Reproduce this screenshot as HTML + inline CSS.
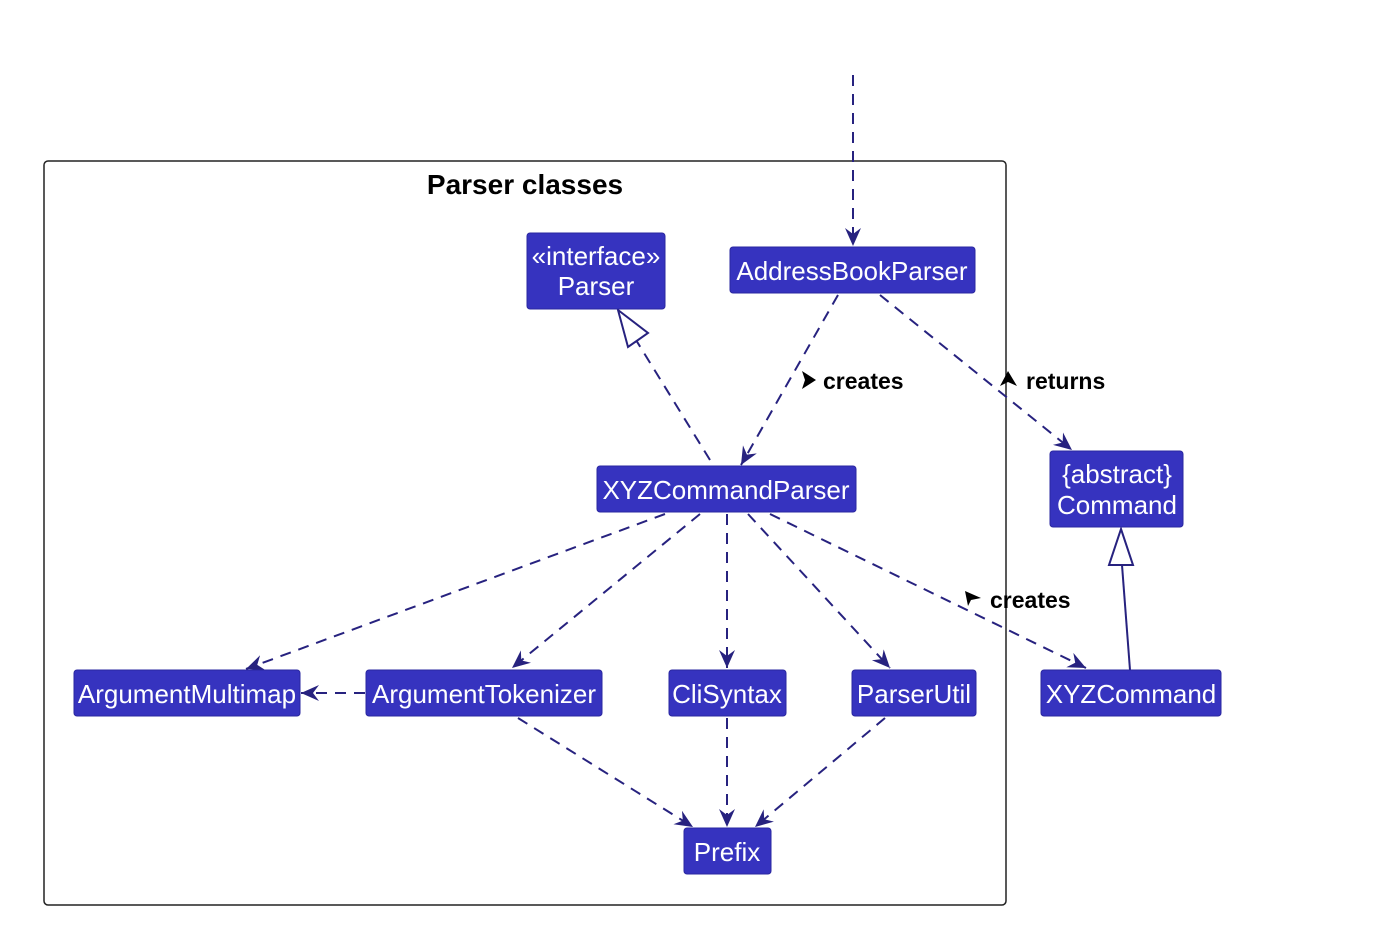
<!DOCTYPE html>
<html><head><meta charset="utf-8"><style>
html,body{margin:0;padding:0;background:#fff}
svg text{font-family:"Liberation Sans",Arial,sans-serif}
.b{fill:#3633BF;stroke:#2a27a0;stroke-width:1}
.t{fill:#fff;font-size:26px}
.e{stroke:#27227F;stroke-width:2;fill:none;stroke-dasharray:11,8}
.l{font-size:23px;font-weight:bold;fill:#000}
</style></head><body>
<svg width="1379" height="931" viewBox="0 0 1379 931" xmlns="http://www.w3.org/2000/svg">
<defs>
<marker id="a" viewBox="0 0 20 20" refX="18" refY="10" markerWidth="20" markerHeight="20" markerUnits="userSpaceOnUse" orient="auto">
<path d="M0,2 L18,10 L0,18 L6,10 Z" fill="#27227F"/>
</marker>
</defs>
<rect x="44" y="161" width="962" height="744" rx="4" fill="none" stroke="#222" stroke-width="1.5"/>
<text x="525" y="194" text-anchor="middle" font-size="28" font-weight="bold">Parser classes</text>

<line class="e" x1="853" y1="75" x2="853" y2="246" marker-end="url(#a)"/>
<line class="e" x1="838" y1="295" x2="741" y2="465" marker-end="url(#a)"/>
<line class="e" x1="880" y1="295" x2="1072" y2="450" marker-end="url(#a)"/>
<line class="e" x1="710" y1="460" x2="636" y2="340"/>
<polygon points="618,310 648,333 628,347" fill="#fff" stroke="#27227F" stroke-width="2"/>
<line x1="1130" y1="670" x2="1122" y2="565" stroke="#27227F" stroke-width="2"/>
<polygon points="1121,529 1133,565 1109,565" fill="#fff" stroke="#27227F" stroke-width="2"/>
<line class="e" x1="665" y1="514" x2="246" y2="669" marker-end="url(#a)"/>
<line class="e" x1="700" y1="514" x2="512" y2="668" marker-end="url(#a)"/>
<line class="e" x1="727" y1="514" x2="727" y2="668" marker-end="url(#a)"/>
<line class="e" x1="748" y1="514" x2="890" y2="668" marker-end="url(#a)"/>
<line class="e" x1="770" y1="514" x2="1086" y2="668" marker-end="url(#a)"/>
<line class="e" x1="365" y1="693" x2="301" y2="693" marker-end="url(#a)"/>
<line class="e" x1="518" y1="718" x2="693" y2="827" marker-end="url(#a)"/>
<line class="e" x1="727" y1="718" x2="727" y2="827" marker-end="url(#a)"/>
<line class="e" x1="885" y1="718" x2="755" y2="827" marker-end="url(#a)"/>

<polygon points="802,371 816,380 802,389 805,380" fill="#000"/>
<text class="l" x="823" y="389">creates</text>
<polygon points="1008,371 1017,386 1008,382 1000,386" fill="#000"/>
<text class="l" x="1026" y="389">returns</text>
<polygon points="965,591 981,598 971,600 968,606" fill="#000"/>
<text class="l" x="990" y="608">creates</text>

<rect class="b" x="527" y="233" width="138" height="76" rx="3"/>
<text class="t" x="596" y="265" text-anchor="middle">«interface»</text>
<text class="t" x="596" y="295" text-anchor="middle">Parser</text>
<rect class="b" x="730" y="247" width="245" height="46" rx="3"/>
<text class="t" x="852" y="280" text-anchor="middle">AddressBookParser</text>
<rect class="b" x="597" y="466" width="259" height="46" rx="3"/>
<text class="t" x="726" y="499" text-anchor="middle">XYZCommandParser</text>
<rect class="b" x="1050" y="451" width="133" height="76" rx="3"/>
<text class="t" x="1117" y="483" text-anchor="middle">{abstract}</text>
<text class="t" x="1117" y="514" text-anchor="middle">Command</text>
<rect class="b" x="74" y="670" width="226" height="46" rx="3"/>
<text class="t" x="187" y="703" text-anchor="middle">ArgumentMultimap</text>
<rect class="b" x="366" y="670" width="236" height="46" rx="3"/>
<text class="t" x="484" y="703" text-anchor="middle">ArgumentTokenizer</text>
<rect class="b" x="669" y="670" width="117" height="46" rx="3"/>
<text class="t" x="727" y="703" text-anchor="middle">CliSyntax</text>
<rect class="b" x="852" y="670" width="124" height="46" rx="3"/>
<text class="t" x="914" y="703" text-anchor="middle">ParserUtil</text>
<rect class="b" x="1041" y="670" width="180" height="46" rx="3"/>
<text class="t" x="1131" y="703" text-anchor="middle">XYZCommand</text>
<rect class="b" x="684" y="828" width="87" height="46" rx="3"/>
<text class="t" x="727" y="861" text-anchor="middle">Prefix</text>
</svg>
</body></html>
